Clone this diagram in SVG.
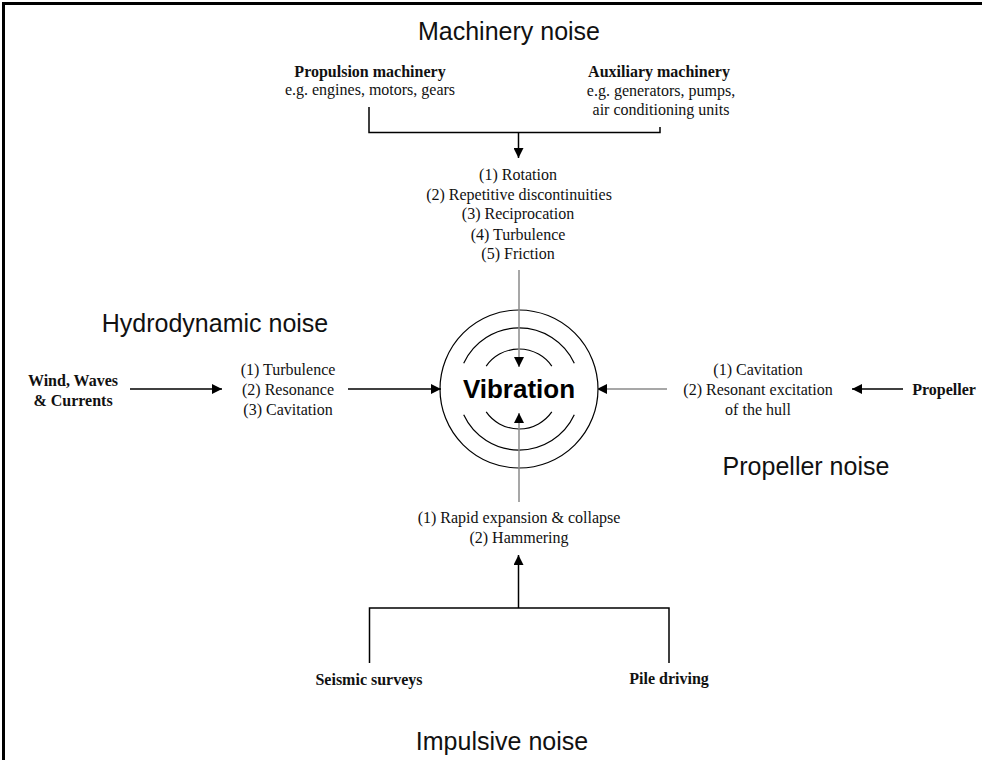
<svg xmlns="http://www.w3.org/2000/svg" width="982" height="760" viewBox="0 0 982 760">
<defs>
<marker id="ah" viewBox="0 0 10 10" refX="10" refY="5" markerWidth="10" markerHeight="10" markerUnits="userSpaceOnUse" orient="auto">
<path d="M0,0 L10,5 L0,10 z" fill="#000"/>
</marker>
</defs>
<style>
.title{font-family:"Liberation Sans",Arial,sans-serif;font-size:25px;fill:#111;text-anchor:middle}
.s{font-family:"Liberation Serif","Times New Roman",serif;font-size:16px;fill:#111;text-anchor:middle}
.b{font-weight:bold}
.ln{fill:none;stroke:#000;stroke-width:1.5}
.gr{fill:none;stroke:#8a8a8a;stroke-width:1.5}
.ring{fill:none;stroke:#000;stroke-width:1.2}
</style>
<rect x="0" y="0" width="982" height="760" fill="#fff"/>
<path d="M3.5,760 V3.5 H982" fill="none" stroke="#000" stroke-width="3"/>

<g id="machinery">
<text class="title" x="509" y="40">Machinery noise</text>
<text class="s b" x="370" y="77">Propulsion machinery</text>
<text class="s" x="370" y="95">e.g. engines, motors, gears</text>
<text class="s b" x="659" y="77">Auxiliary machinery</text>
<text class="s" x="661" y="96">e.g. generators, pumps,</text>
<text class="s" x="661" y="115">air conditioning units</text>
</g>
<g id="machinery-mech">
<text class="s" x="518" y="180">(1) Rotation</text>
<text class="s" x="519" y="200">(2) Repetitive discontinuities</text>
<text class="s" x="518" y="219">(3) Reciprocation</text>
<text class="s" x="518" y="240">(4) Turbulence</text>
<text class="s" x="518" y="259">(5) Friction</text>
</g>

<g id="hydro">
<text class="title" x="215" y="332">Hydrodynamic noise</text>
<text class="s b" x="73" y="386">Wind, Waves</text>
<text class="s b" x="73" y="406">&amp; Currents</text>
</g>
<g id="hydro-mech">
<text class="s" x="288" y="375">(1) Turbulence</text>
<text class="s" x="288" y="395">(2) Resonance</text>
<text class="s" x="288" y="415">(3) Cavitation</text>
</g>

<g id="propeller">
<text class="title" x="806" y="475">Propeller noise</text>
<text class="s b" x="944" y="395">Propeller</text>
</g>
<g id="propeller-mech">
<text class="s" x="758" y="375">(1) Cavitation</text>
<text class="s" x="758" y="395">(2) Resonant excitation</text>
<text class="s" x="758" y="415">of the hull</text>
</g>

<g id="impulsive">
<text class="title" x="502" y="750">Impulsive noise</text>
<text class="s b" x="369" y="685">Seismic surveys</text>
<text class="s b" x="669" y="684">Pile driving</text>
</g>
<g id="impulsive-mech">
<text class="s" x="519" y="523">(1) Rapid expansion &amp; collapse</text>
<text class="s" x="519" y="543">(2) Hammering</text>
</g>

<g id="vibration">
<circle class="ring" cx="519" cy="389" r="79"/>
<path class="ring" d="M463.7,363.2 A61,61 0 0 1 574.3,363.2"/>
<path class="ring" d="M463.7,414.8 A61,61 0 0 0 574.3,414.8"/>
<path class="ring" d="M486.2,366.1 A40,40 0 0 1 551.8,366.1"/>
<path class="ring" d="M486.2,411.9 A40,40 0 0 0 551.8,411.9"/>
<text x="519" y="398" text-anchor="middle" font-family="'Liberation Sans',Arial,sans-serif" font-weight="bold" font-size="26" fill="#000">Vibration</text>
</g>

<g id="connectors">
<path class="ln" d="M369,107 V132.5 H660 V127"/>
<path class="ln" d="M518.5,132.5 V158" marker-end="url(#ah)"/>
<path class="gr" d="M519,270 V367" marker-end="url(#ah)"/>
<path class="ln" d="M130,389 H222" marker-end="url(#ah)"/>
<path class="ln" d="M348,389 H441" marker-end="url(#ah)"/>
<path class="ln" d="M903,389 H852" marker-end="url(#ah)"/>
<path class="gr" d="M667,389 H597" marker-end="url(#ah)"/>
<path class="gr" d="M519,502 V413" marker-end="url(#ah)"/>
<path class="ln" d="M369.5,663 V608 H669 V663"/>
<path class="ln" d="M518.5,608 V555" marker-end="url(#ah)"/>
</g>
</svg>
